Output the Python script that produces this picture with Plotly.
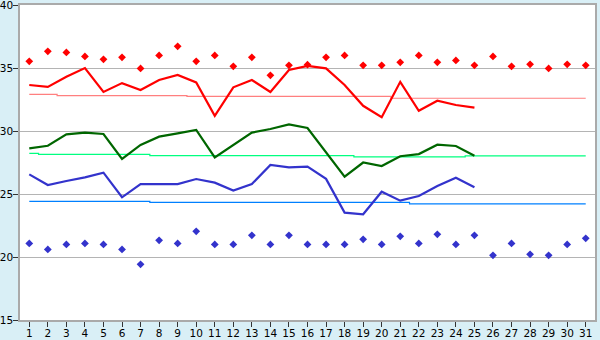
import plotly.graph_objects as go

days = list(range(1, 32))
days25 = list(range(1, 26))

red_line = [33.65, 33.5, 34.3, 35.0, 33.1, 33.8, 33.25, 34.05, 34.45, 33.85,
            31.2, 33.47, 34.05, 33.1, 34.84, 35.16, 34.97, 33.65, 32.0, 31.1,
            33.9, 31.6, 32.4, 32.06, 31.85]
green_line = [28.62, 28.83, 29.73, 29.87, 29.76, 27.78, 28.89, 29.55, 29.81, 30.08,
              27.9, 28.89, 29.87, 30.16, 30.53, 30.24, 28.3, 26.38, 27.5, 27.22,
              28.0, 28.17, 28.91, 28.81, 28.04]
blue_line = [26.56, 25.71, 26.03, 26.32, 26.69, 24.74, 25.79, 25.79, 25.79, 26.19,
             25.9, 25.27, 25.79, 27.3, 27.12, 27.17, 26.2, 23.52, 23.39, 25.18,
             24.47, 24.84, 25.63, 26.29, 25.53]
red_pts = [35.53, 36.32, 36.24, 35.92, 35.69, 35.85, 34.97, 36.0, 36.72, 35.53,
           36.0, 35.13, 35.85, 34.42, 35.21, 35.26, 35.85, 36.0, 35.21, 35.21,
           35.45, 36.0, 35.45, 35.6, 35.21, 35.92, 35.13, 35.29, 34.97, 35.29, 35.21]
blue_pts = [21.08, 20.6, 21.0, 21.08, 21.0, 20.6, 19.42, 21.32, 21.08, 22.04,
            21.0, 21.0, 21.72, 21.0, 21.72, 21.0, 21.0, 21.0, 21.4, 21.0,
            21.64, 21.08, 21.8, 21.0, 21.72, 20.13, 21.08, 20.21, 20.13, 21.0, 21.48]
red_norm = [32.9, 32.9] + [32.8] * 7 + [32.75] * 11 + [32.6] * 11
green_norm = [28.23] + [28.15] * 6 + [28.04] * 11 + [27.94] * 6 + [28.02] * 7
blue_norm = [24.42] * 7 + [24.34] * 14 + [24.22] * 10

fig = go.Figure()
for vals, col in [(red_norm, "#ff7f7f"), (green_norm, "#00ff80"), (blue_norm, "#0080ff")]:
    fig.add_trace(go.Scatter(x=days, y=vals, mode="lines", line_shape="hvh",
                             line=dict(color=col, width=1.2), hoverinfo="skip"))
for vals, col in [(red_line, "#ff0000"), (green_line, "#006600"), (blue_line, "#3333cc")]:
    fig.add_trace(go.Scatter(x=days25, y=vals, mode="lines",
                             line=dict(color=col, width=2.2)))
for vals, col in [(red_pts, "#ff0000"), (blue_pts, "#3333cc")]:
    fig.add_trace(go.Scatter(x=days, y=vals, mode="markers",
                             marker=dict(symbol="diamond", size=6, color=col,
                                         line=dict(width=0))))

fig.update_layout(
    width=600, height=340, showlegend=False,
    margin=dict(l=20, r=5, t=5, b=20, autoexpand=False),
    paper_bgcolor="#d9eff6", plot_bgcolor="#ffffff",
    font=dict(family="DejaVu Sans", size=10.5, color="#000000"),
)
fig.update_xaxes(range=[0.5, 31.5], tickvals=days, ticks="outside", ticklen=5,
                 tickcolor="#333333", showgrid=False, showline=True,
                 linecolor="#aaaaaa", linewidth=1.5, mirror=True, zeroline=False,
                 fixedrange=True, ticklabelstandoff=-2, automargin=False,
                 ticklabeloverflow="allow")
fig.update_yaxes(range=[15, 40], tickvals=[15, 20, 25, 30, 35, 40], ticks="outside",
                 ticklen=5, tickcolor="#333333", showgrid=True, gridcolor="#b4b4b4",
                 gridwidth=1.3, showline=True, linecolor="#aaaaaa", linewidth=1.5,
                 mirror=True, zeroline=False, fixedrange=True, ticklabelstandoff=-2,
                 automargin=False, ticklabeloverflow="allow")

fig.write_html("out.html")
